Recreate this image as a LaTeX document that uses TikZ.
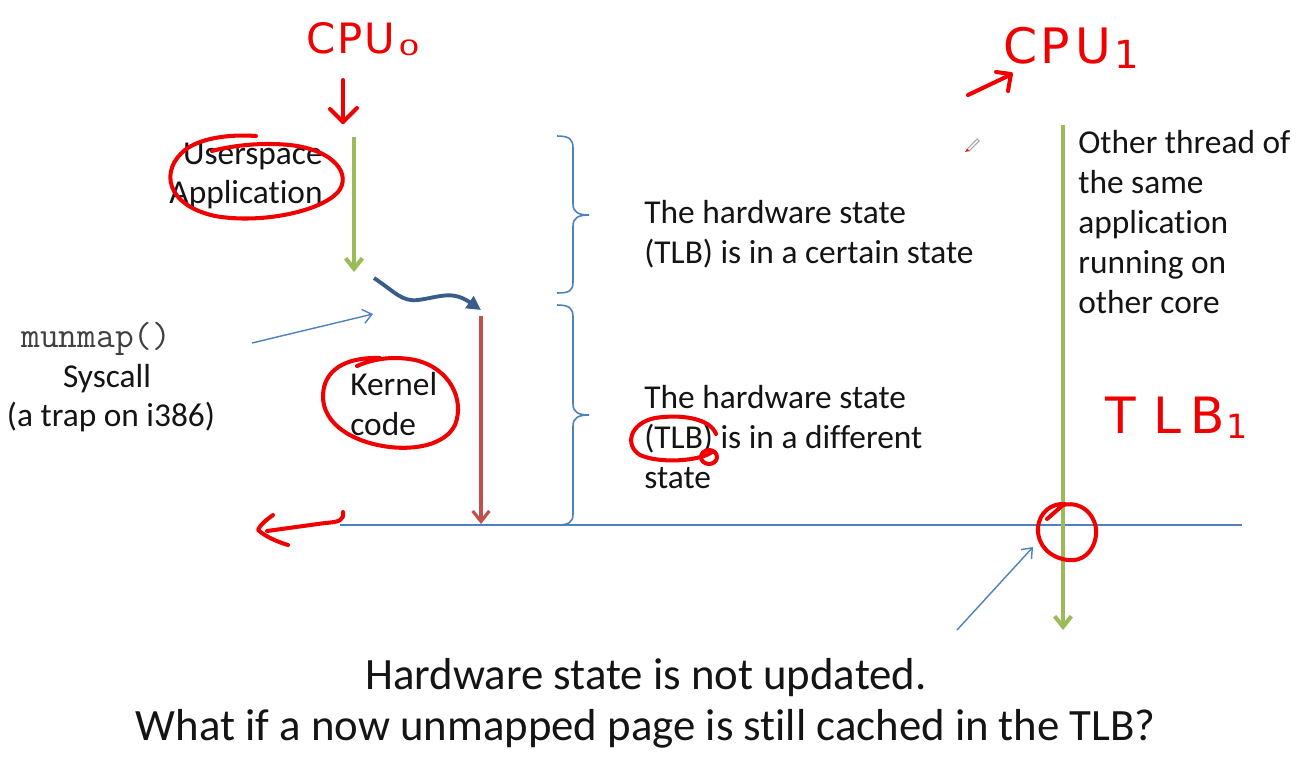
\documentclass[tikz,border=0pt]{standalone}
\usepackage{fontspec}
\setmainfont{Carlito}[Ligatures={NoCommon}]
\newfontfamily\handfont{DejaVu Sans}
\usetikzlibrary{arrows.meta}

\definecolor{flowgreen}{HTML}{9BBB59}
\definecolor{kernred}{HTML}{C0504D}
\definecolor{lineblue}{HTML}{4F81BD}
\definecolor{waveblue}{HTML}{385D8A}
\definecolor{ink}{HTML}{F00000}
\definecolor{txt}{HTML}{141414}

\tikzset{
  lbl/.style={inner sep=0pt, anchor=base west, text=txt,
    font=\fontsize{19pt}{22.7pt}\selectfont},
  lblc/.style={lbl, anchor=base},
  lble/.style={lbl, anchor=base east},
  bigline/.style={inner sep=0pt, anchor=base, text=txt,
    font=\fontsize{25.5pt}{29pt}\selectfont},
  codeline/.style={inner sep=0pt, anchor=base west, text=black!75,
    font=\ttfamily\fontsize{20.7pt}{22pt}\selectfont},
  inktext/.style={inner sep=0pt, anchor=base west, text=ink},
  flow/.style={draw=flowgreen, line width=2.3pt,
    -{Straight Barb[length=6pt,width=9.5pt]}},
  kflow/.style={draw=kernred, line width=1.8pt,
    -{Straight Barb[length=6pt,width=9.5pt]}},
  wave/.style={draw=waveblue, line width=2.2pt,
    -{Triangle[length=8pt,width=8pt]}},
  pointer/.style={draw=lineblue, line width=0.8pt,
    -{Straight Barb[length=5pt,width=8pt]}},
  bracepath/.style={draw=lineblue, line width=0.9pt},
  inkline/.style={draw=ink, line width=2.3pt, line cap=round, line join=round},
}

\begin{document}
\begin{tikzpicture}[x=0.02cm,y=-0.02cm]
\useasboundingbox (0,0) rectangle (1304,765);
\fill[white] (0,0) rectangle (1304,765);

% ---- anchor points of the timelines ----
\coordinate (u0) at (354,137);
\coordinate (u1) at (354,272);
\coordinate (w0) at (374,278);
\coordinate (w1) at (481,310);
\coordinate (k0) at (481,316);
\coordinate (k1) at (481,524);
\coordinate (h0) at (340,525);
\coordinate (h1) at (1242,525);
\coordinate (o0) at (1063,125);
\coordinate (o1) at (1063,630);
\coordinate (p0) at (252,343);
\coordinate (p1) at (373,314);
\coordinate (q0) at (957,630);
\coordinate (q1) at (1033,547);

% ---- timelines ----
\draw[flow] (u0) -- (u1);
\draw[wave] (w0) .. controls (395,292) and (402,302) .. (418,300)
                 .. controls (440,297) and (452,290) .. (w1);
\draw[kflow] (k0) -- (k1);
\draw[lineblue, line width=0.9pt] (h0) -- (h1);
\draw[flow] (o0) -- (o1);
\draw[pointer] (p0) -- (p1);
\draw[pointer] (q0) -- (q1);

% ---- braces ----
\draw[bracepath] (557,136) .. controls (569,136) and (573,139) .. (573,148)
  -- (573,204) .. controls (573,212) and (578,215) .. (589,215)
  .. controls (578,215) and (573,218) .. (573,226)
  -- (573,282) .. controls (573,291) and (569,293) .. (557,293);
\draw[bracepath] (557,305) .. controls (569,305) and (573,308) .. (573,317)
  -- (573,404) .. controls (573,412) and (578,415) .. (589,415)
  .. controls (578,415) and (573,418) .. (573,426)
  -- (573,514) .. controls (573,522) and (569,525) .. (557,525);

% ---- labels ----
\node[lble] (us1) at (323,164) {Userspace};
\node[lble] (us2) at (323,203) {Application};
\node[lbl] (kc1) at (350,395) {Kernel};
\node[lbl] (kc2) at (350,435) {code};
\node[codeline] (mm) at (21,347) {munmap()};
\node[lblc] (sc1) at (107,387) {Syscall};
\node[lblc] (sc2) at (111,426) {(a trap on i386)};

\node[lbl] (hw1) at (644,223) {The hardware state};
\node[lbl] (hw2) at (644,263) {(TLB) is in a certain state};
\node[lbl] (hd1) at (644,408) {The hardware state};
\node[lbl] (hd2) at (644,448) {(TLB) is in a different};
\node[lbl] (hd3) at (644,488) {state};

\node[lbl] (ot1) at (1078,153) {Other thread of};
\node[lbl] (ot2) at (1078,193) {the same};
\node[lbl] (ot3) at (1078,233) {application};
\node[lbl] (ot4) at (1078,273) {running on};
\node[lbl] (ot5) at (1078,313) {other core};

\node[bigline] (bt1) at (646,689) {Hardware state is not updated.};
\node[bigline] (bt2) at (646,740) {What if a now unmapped page is still cached in the TLB?};

% ---- handwritten notes ----
\node[inktext, font=\handfont\fontsize{23.8pt}{24pt}\selectfont] (cpu0) at (306,53)
  {C\kern1pt P\kern1pt U\kern2pt\raisebox{-1.5pt}{\scalebox{1.6}[1]{\fontsize{12pt}{12pt}\selectfont 0}}};
\node[inktext, font=\handfont\fontsize{27.8pt}{28pt}\selectfont] (cpu1) at (1003,63)
  {C\kern2pt P\kern3pt U\kern2pt\raisebox{-3pt}{\fontsize{22pt}{22pt}\selectfont 1}};
\node[inktext, font=\handfont\fontsize{28.5pt}{28pt}\selectfont] (tlb1) at (1105,433)
  {T\kern10pt L\kern5pt B\kern1pt\raisebox{-3pt}{\fontsize{19pt}{19pt}\selectfont 1}};

\draw[inkline] (343,80) -- (343,122);
\draw[inkline] (330,109) -- (343,122) -- (357,108);

\draw[inkline] (968,95) -- (1010,75);
\draw[inkline] (996,72) -- (1011,74) -- (1008,91);

% loop around the user-space label
\draw[inkline] (256,136) .. controls (230,134) and (200,138) .. (185,150)
  .. controls (160,170) and (165,205) .. (215,216)
  .. controls (260,224) and (320,212) .. (338,192)
  .. controls (352,175) and (335,150) .. (290,145)
  .. controls (260,142) and (230,146) .. (212,151);

% loop around the kernel label
\draw[inkline] (357,366) .. controls (375,358) and (395,356) .. (415,360)
  .. controls (450,368) and (465,400) .. (455,425)
  .. controls (445,445) and (415,450) .. (390,447)
  .. controls (355,443) and (322,425) .. (323,395)
  .. controls (324,370) and (345,357) .. (380,358);

% loop around (TLB)
\draw[inkline] (716,434) .. controls (710,418) and (680,414) .. (655,418)
  .. controls (630,423) and (624,445) .. (640,455)
  .. controls (660,464) and (700,461) .. (712,452);
\draw[inkline] (709,457) ellipse [x radius=8, y radius=7];

% circle at the crossing
\draw[inkline] (1047,519) -- (1063,505)
  .. controls (1085,500) and (1098,520) .. (1096,535)
  .. controls (1094,552) and (1082,562) .. (1068,560)
  .. controls (1050,558) and (1037,545) .. (1038,528)
  .. controls (1039,512) and (1052,503) .. (1065,504);

% back-arrow on the baseline
\draw[inkline] (343,512) .. controls (344,520) and (340,522) .. (325,523) -- (267,531);
\draw[inkline] (273,515) .. controls (266,520) and (260,525) .. (258,530)
  .. controls (266,537) and (278,542) .. (288,545);

% pen cursor
\draw[gray!70, line width=0.6pt] (967,149) -- (977,139) -- (979,141) -- (969,151) -- cycle;
\fill[ink] (965,152) -- (967,149) -- (969,151) -- cycle;
\end{tikzpicture}
\end{document}
